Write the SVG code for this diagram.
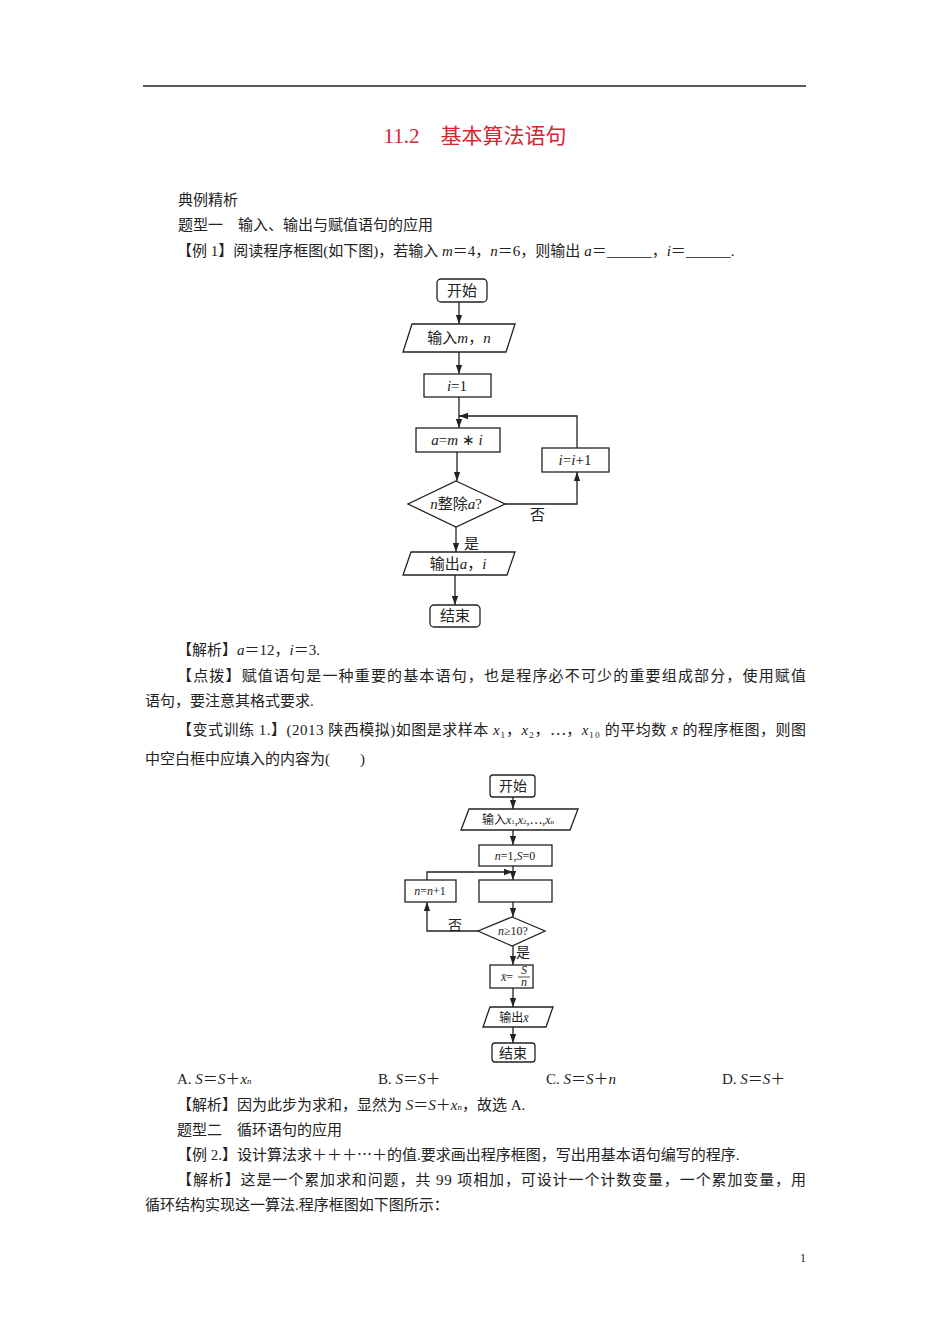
<svg xmlns="http://www.w3.org/2000/svg" width="950" height="1344" viewBox="0 0 950 1344">
<style>
.t{font-family:"Liberation Serif","Noto Sans CJK SC",serif;font-size:15px;fill:#222}
.f{font-family:"Liberation Serif","Noto Sans CJK SC",serif;font-size:14px;fill:#222}
.s{font-family:"Liberation Serif","Noto Sans CJK SC",serif;font-size:12px;fill:#222}
.i{font-style:italic}
.b{fill:#fff;stroke:#222;stroke-width:1.3}
.c{fill:none;stroke:#222;stroke-width:1.3}
</style>
<defs><marker id="a" viewBox="0 0 10 10" refX="10" refY="5" markerWidth="7" markerHeight="7" orient="auto"><path d="M0,1.5 L10,5 L0,8.5z" fill="#222"/></marker></defs>
<line x1="143" y1="86" x2="806" y2="86" stroke="#222" stroke-width="1.3"/>
<text x="475" y="143" text-anchor="middle" style="font-family:'Liberation Serif','Noto Sans CJK SC',serif;font-size:21px;fill:#d9232e">11.2　基本算法语句</text>
<text class="t" x="178" y="205">典例精析</text>
<text class="t" x="178" y="230">题型一　输入、输出与赋值语句的应用</text>
<text class="t" x="177" y="256">【例 1】阅读程序框图(如下图)，若输入 <tspan class="i">m</tspan>＝4，<tspan class="i">n</tspan>＝6，则输出 <tspan class="i">a</tspan>＝______，<tspan class="i">i</tspan>＝______.</text>
<g id="fc1">
<g class="connectors">
<line class="c" x1="459" y1="302" x2="459" y2="324" marker-end="url(#a)"/>
<line class="c" x1="459" y1="352" x2="459" y2="374" marker-end="url(#a)"/>
<line class="c" x1="459" y1="397" x2="459" y2="428" marker-end="url(#a)"/>
<line class="c" x1="457" y1="452" x2="457" y2="481" marker-end="url(#a)"/>
<polyline class="c" points="505,504 577,504 577,472" marker-end="url(#a)"/>
<polyline class="c" points="577,448 577,416 459,416" marker-end="url(#a)"/>
<line class="c" x1="456" y1="527" x2="456" y2="552" marker-end="url(#a)"/>
<line class="c" x1="455" y1="575" x2="455" y2="605" marker-end="url(#a)"/>
</g>
<g id="n1"><rect class="b" x="437" y="279" width="50" height="23" rx="4"/><text class="t" x="462" y="296" text-anchor="middle">开始</text></g>
<g id="n2"><polygon class="b" points="412,324 515,324 506,352 403,352"/><text class="t" x="459" y="343" text-anchor="middle">输入<tspan class="i">m</tspan>，<tspan class="i">n</tspan></text></g>
<g id="n3"><rect class="b" x="424" y="374" width="67" height="23"/><text class="t i" x="457" y="391" text-anchor="middle">i<tspan font-style="normal">=1</tspan></text></g>
<g id="n4"><rect class="b" x="416" y="428" width="84" height="24"/><text class="t i" x="457" y="445" text-anchor="middle">a<tspan font-style="normal">=</tspan>m <tspan font-style="normal">∗</tspan> i</text></g>
<g id="n5"><polygon class="b" points="456,481 505,504 456,527 408,504"/><text class="t" x="456" y="509" text-anchor="middle"><tspan class="i">n</tspan>整除<tspan class="i">a</tspan>?</text></g>
<g id="n6"><rect class="b" x="542" y="448" width="67" height="24"/><text class="t i" x="575" y="465" text-anchor="middle">i<tspan font-style="normal">=</tspan>i<tspan font-style="normal">+1</tspan></text></g>
<g id="n7"><polygon class="b" points="411,552 515,552 507,575 403,575"/><text class="t" x="458" y="569" text-anchor="middle">输出<tspan class="i">a</tspan>，<tspan class="i">i</tspan></text></g>
<g id="n8"><rect class="b" x="430" y="605" width="50" height="22" rx="4"/><text class="t" x="455" y="621" text-anchor="middle">结束</text></g>
<text class="t" x="530" y="520">否</text>
<text class="t" x="464" y="549">是</text>
</g>
<text class="t" x="177" y="655">【解析】<tspan class="i">a</tspan>＝12，<tspan class="i">i</tspan>＝3.</text>
<text class="t" x="177" y="681" textLength="629" lengthAdjust="spacing">【点拨】赋值语句是一种重要的基本语句，也是程序必不可少的重要组成部分，使用赋值</text>
<text class="t" x="145" y="706">语句，要注意其格式要求.</text>
<text class="t" x="177" y="735" textLength="629" lengthAdjust="spacing">【变式训练 1.】(2013 陕西模拟)如图是求样本 <tspan class="i">x</tspan>₁，<tspan class="i">x</tspan>₂，⋯，<tspan class="i">x</tspan>₁₀ 的平均数 <tspan class="i">x̄</tspan> 的程序框图，则图</text>
<text class="t" x="145" y="764">中空白框中应填入的内容为(　　)</text>
<g id="fc2">
<g class="connectors">
<line class="c" x1="513" y1="797" x2="513" y2="809" marker-end="url(#a)"/>
<line class="c" x1="513" y1="830" x2="513" y2="845" marker-end="url(#a)"/>
<line class="c" x1="513" y1="866" x2="513" y2="880" marker-end="url(#a)"/>
<line class="c" x1="513" y1="902" x2="513" y2="917" marker-end="url(#a)"/>
<polyline class="c" points="478,931 427,931 427,902" marker-end="url(#a)"/>
<polyline class="c" points="427,880 427,872 513,872" marker-end="url(#a)"/>
<line class="c" x1="513" y1="946" x2="513" y2="965" marker-end="url(#a)"/>
<line class="c" x1="513" y1="988" x2="513" y2="1007" marker-end="url(#a)"/>
<line class="c" x1="513" y1="1027" x2="513" y2="1043" marker-end="url(#a)"/>
</g>
<g id="m1"><rect class="b" x="490" y="775" width="45" height="22" rx="3"/><text class="f" x="513" y="791" text-anchor="middle">开始</text></g>
<g id="m2"><polygon class="b" points="469,809 578,809 570,830 461,830"/><text class="s" x="518" y="824" text-anchor="middle">输入<tspan class="i">x</tspan><tspan font-size="7">1</tspan>,<tspan class="i">x</tspan><tspan font-size="7">2</tspan>,⋯,<tspan class="i">x</tspan><tspan font-size="7">n</tspan></text></g>
<g id="m3"><rect class="b" x="479" y="845" width="73" height="21"/><text class="s" x="515" y="860" text-anchor="middle"><tspan class="i">n</tspan>=1,<tspan class="i">S</tspan>=0</text></g>
<g id="m4"><rect class="b" x="479" y="880" width="73" height="22"/></g>
<g id="m5"><rect class="b" x="405" y="880" width="51" height="22"/><text class="s" x="430" y="895" text-anchor="middle"><tspan class="i">n</tspan>=<tspan class="i">n</tspan>+1</text></g>
<g id="m6"><polygon class="b" points="512,917 545,931 512,946 478,931"/><text class="s" x="513" y="935" text-anchor="middle"><tspan class="i">n</tspan>≥10?</text></g>
<g id="m7"><rect class="b" x="490" y="965" width="43" height="23"/><text class="s" x="507" y="981" text-anchor="middle"><tspan class="i">x̄</tspan>=</text><text class="s i" x="524" y="974" text-anchor="middle" font-size="9">S</text><line x1="518" y1="977" x2="530" y2="977" stroke="#222" stroke-width="0.8"/><text class="s i" x="524" y="986" text-anchor="middle" font-size="9">n</text></g>
<g id="m8"><polygon class="b" points="490,1007 553,1007 546,1027 483,1027"/><text class="s" x="514" y="1022" text-anchor="middle">输出<tspan class="i">x̄</tspan></text></g>
<g id="m9"><rect class="b" x="492" y="1043" width="43" height="19" rx="3"/><text class="f" x="513" y="1058" text-anchor="middle">结束</text></g>
<text class="f" x="448" y="930">否</text>
<text class="f" x="516" y="957">是</text>
</g>
<text class="t" x="177" y="1084">A. <tspan class="i">S</tspan>＝<tspan class="i">S</tspan>＋<tspan class="i">x</tspan><tspan font-size="9" class="i">n</tspan></text>
<text class="t" x="378" y="1084">B. <tspan class="i">S</tspan>＝<tspan class="i">S</tspan>＋</text>
<text class="t" x="546" y="1084">C. <tspan class="i">S</tspan>＝<tspan class="i">S</tspan>＋<tspan class="i">n</tspan></text>
<text class="t" x="722" y="1084">D. <tspan class="i">S</tspan>＝<tspan class="i">S</tspan>＋</text>
<text class="t" x="177" y="1110">【解析】因为此步为求和，显然为 <tspan class="i">S</tspan>＝<tspan class="i">S</tspan>＋<tspan class="i">x</tspan><tspan font-size="9" class="i">n</tspan>，故选 A.</text>
<text class="t" x="177" y="1135">题型二　循环语句的应用</text>
<text class="t" x="177" y="1160">【例 2.】设计算法求＋＋＋⋯＋的值.要求画出程序框图，写出用基本语句编写的程序.</text>
<text class="t" x="177" y="1185" textLength="629" lengthAdjust="spacing">【解析】这是一个累加求和问题，共 99 项相加，可设计一个计数变量，一个累加变量，用</text>
<text class="t" x="145" y="1210">循环结构实现这一算法.程序框图如下图所示：</text>
<text class="s" x="803" y="1262" text-anchor="middle">1</text>
</svg>
